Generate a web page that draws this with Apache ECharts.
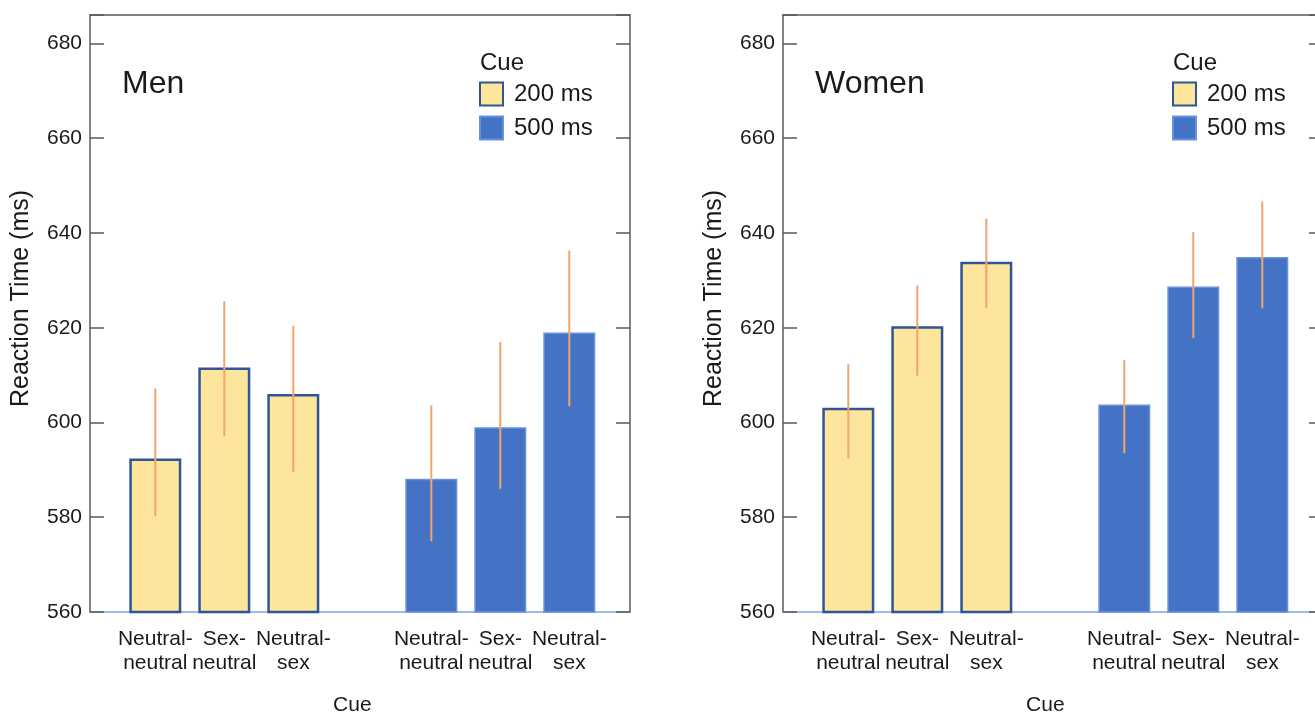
<!DOCTYPE html>
<html><head><meta charset="utf-8">
<script src="https://cdn.jsdelivr.net/npm/echarts@6/dist/echarts.min.js"></script>
<style>html,body{margin:0;padding:0;background:#fff}#c{width:1315px;height:716px}</style>
</head><body><div id="c"></div>
<script>
// ---- data ----
const cueTypes = ['Neutral-\nneutral', 'Sex-\nneutral', 'Neutral-\nsex'];
const yTicks = [560, 580, 600, 620, 640, 660, 680];
const panelNames = ['Men', 'Women'];
const seriesNames = ['200 ms', '500 ms'];

const men200 = [592.4, 611.6, 606.0];
const men500 = [588.1, 599.0, 619.0];
const men200Low = [580.2, 597.1, 589.6];
const men200High = [607.2, 625.6, 620.4];
const men500Low = [574.9, 586.0, 603.4];
const men500High = [603.6, 617.0, 636.3];

const women200 = [603.1, 620.3, 633.9];
const women500 = [603.8, 628.7, 634.9];
const women200Low = [592.4, 609.9, 624.1];
const women200High = [612.3, 628.9, 643.0];
const women500Low = [593.5, 617.8, 624.1];
const women500High = [613.2, 640.2, 646.7];

// ---- build ----
const FONT = '"Liberation Sans", Arial, sans-serif';
const TXT = '#1a1a1a';
const Y_MIN = 560, Y_MAX = 686, Y_INT = 20;
const categories = cueTypes.concat([''], cueTypes);
const gap = ['-'];
const blank3 = ['-', '-', '-'];

const panels = [
  {name: panelNames[0], dx: 0, v200: men200, v500: men500, lo200: men200Low, hi200: men200High, lo500: men500Low, hi500: men500High},
  {name: panelNames[1], dx: 693, v200: women200, v500: women500, lo200: women200Low, hi200: women200High, lo500: women500Low, hi500: women500High}
];

const option = {
  backgroundColor: '#fff',
  animation: false,
  textStyle: {fontFamily: FONT, color: TXT},
  grid: [], xAxis: [], yAxis: [], series: [], legend: [], title: []
};

const frameColor = '#5a5a5a';
const baseColor = '#7fa2e6';
const c200 = '#fde69b', b200 = '#2f5597';
const c500 = '#4472c4', b500 = '#6a92da';
const errColor = '#f3a36c';

panels.forEach((p, i) => {
  const dx = p.dx;
  const gFrame = option.grid.length;
  option.grid.push({left: 90 + dx, top: 15, width: 540, height: 597, outerBoundsMode: 'none', containLabel: false});
  const gBar = option.grid.length;
  option.grid.push({left: 120.8 + dx, top: 15, width: 483, height: 597, outerBoundsMode: 'none', containLabel: false});

  // frame axes
  option.xAxis.push({gridIndex: gFrame, type: 'value', position: 'top', min: 0, max: 1,
    axisLine: {show: true, onZero: false, lineStyle: {color: frameColor, width: 1.5}},
    axisTick: {show: false}, axisLabel: {show: false}, splitLine: {show: false}});
  option.xAxis.push({gridIndex: gFrame, type: 'value', position: 'bottom', min: 0, max: 1,
    axisLine: {show: true, onZero: false, lineStyle: {color: baseColor, width: 1.5}},
    axisTick: {show: false}, axisLabel: {show: false}, splitLine: {show: false}});
  option.yAxis.push({gridIndex: gFrame, type: 'value', position: 'left', min: Y_MIN, max: Y_MAX, interval: Y_INT,
    name: 'Reaction Time (ms)', nameLocation: 'middle', nameGap: 56,
    nameTextStyle: {fontSize: 25, color: TXT, fontFamily: FONT, padding: [0, 0, 0, 30]},
    axisLine: {show: true, onZero: false, lineStyle: {color: frameColor, width: 1.5}},
    axisTick: {show: true, inside: true, length: 14, lineStyle: {color: frameColor, width: 1.5}},
    axisLabel: {show: true, fontSize: 21, color: TXT, fontFamily: FONT, margin: 8,
      formatter: v => yTicks.indexOf(v) >= 0 ? String(v) : ''},
    splitLine: {show: false}});
  option.yAxis.push({gridIndex: gFrame, type: 'value', position: 'right', min: Y_MIN, max: Y_MAX, interval: Y_INT,
    axisLine: {show: true, onZero: false, lineStyle: {color: frameColor, width: 1.5}},
    axisTick: {show: true, inside: true, length: 14, lineStyle: {color: frameColor, width: 1.5}},
    axisLabel: {show: false}, splitLine: {show: false}});

  // bar axes
  const xCat = option.xAxis.length;
  option.xAxis.push({gridIndex: gBar, type: 'category', data: categories,
    name: 'Cue', nameLocation: 'middle', nameGap: 83,
    nameTextStyle: {fontSize: 21, color: TXT, fontFamily: FONT, padding: [0, 20, 0, 0]},
    axisLine: {show: false}, axisTick: {show: false},
    axisLabel: {show: true, interval: 0, fontSize: 21, lineHeight: 24, color: TXT, fontFamily: FONT, margin: 15, align: 'center'},
    splitLine: {show: false}});
  const yBar = option.yAxis.length;
  option.yAxis.push({gridIndex: gBar, type: 'value', min: Y_MIN, max: Y_MAX, show: false});

  option.series.push({
    name: seriesNames[0], type: 'bar', xAxisIndex: xCat, yAxisIndex: yBar,
    data: p.v200.concat(gap, blank3), barWidth: 52, barGap: '-100%',
    itemStyle: {color: c200, borderColor: b200, borderWidth: 2.5}, z: 2
  });
  option.series.push({
    name: seriesNames[1], type: 'bar', xAxisIndex: xCat, yAxisIndex: yBar,
    data: blank3.concat(gap, p.v500), barWidth: 52, barGap: '-100%',
    itemStyle: {color: c500, borderColor: b500, borderWidth: 1.5}, z: 2
  });

  const errData = [];
  p.lo200.forEach((lo, k) => errData.push([k, lo, p.hi200[k]]));
  p.lo500.forEach((lo, k) => errData.push([k + 4, lo, p.hi500[k]]));
  option.series.push({
    type: 'custom', xAxisIndex: xCat, yAxisIndex: yBar, z: 5, silent: true,
    data: errData,
    renderItem: (params, api) => {
      const x = api.value(0);
      const a = api.coord([x, api.value(1)]);
      const b = api.coord([x, api.value(2)]);
      return {type: 'line', shape: {x1: a[0], y1: a[1], x2: b[0], y2: b[1]},
        style: {stroke: errColor, lineWidth: 2}};
    }
  });

  option.legend.push({
    data: seriesNames, orient: 'vertical', left: 479 + dx, top: 81.5, padding: 0,
    itemWidth: 23, itemHeight: 23, itemGap: 9, icon: 'rect',
    textStyle: {fontSize: 24, color: TXT, fontFamily: FONT, padding: [0, 0, 0, 6]}
  });
  option.title.push({text: p.name, left: 122 + dx, top: 68, padding: 0,
    textStyle: {fontSize: 32, fontWeight: 'normal', color: TXT, fontFamily: FONT}});
  option.title.push({text: 'Cue', left: 480 + dx, top: 51, padding: 0,
    textStyle: {fontSize: 24, fontWeight: 'normal', color: TXT, fontFamily: FONT}});
});

const chart = echarts.init(document.getElementById('c'), null, {renderer: 'canvas'});
chart.setOption(option);
</script>
</body></html>
